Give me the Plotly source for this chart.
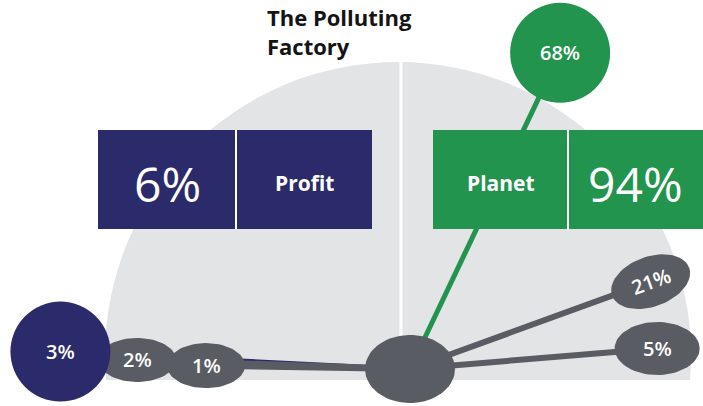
import numpy as np
import plotly.graph_objects as go

# ---------------- data ----------------
title = "The Polluting<br>Factory"
groups = ["Profit", "Planet"]
group_totals = [6, 94]
profit_parts = [3, 2, 1]
planet_parts = [68, 21, 5]

# ---------------- styling ----------------
NAVY = "rgb(43,42,107)"
GREEN = "rgb(34,148,78)"
GREY = "rgb(90,92,99)"
BG = "rgb(227,228,230)"
FONT = "Open Sans"

W, H = 703, 406
HUB = (410, 369)            # hub centre (axes are set up in pixel units)
DEG_PER_PCT = 0.95          # angle of a spoke = share * this
profit_len = [350, 273, 204]
planet_len = [350, 256, 248]


def spoke_end(value, length, side):
    ang = np.radians(value * DEG_PER_PCT)
    dx = length * np.cos(ang)
    if side == "left":
        dx = -dx
    return HUB[0] + dx, HUB[1] - length * np.sin(ang)


def ellipse(cx, cy, w, h, tilt=0.0, n=72):
    t = np.linspace(0, 2 * np.pi, n)
    ex, ey = w / 2 * np.cos(t), h / 2 * np.sin(t)
    a = np.radians(tilt)
    return cx + ex * np.cos(a) - ey * np.sin(a), cy - (ex * np.sin(a) + ey * np.cos(a))


fig = go.Figure()

ends_left = [spoke_end(v, l, "left") for v, l in zip(profit_parts, profit_len)]
ends_right = [spoke_end(v, l, "right") for v, l in zip(planet_parts, planet_len)]

# spokes
spoke_styles = [(ends_left[0], NAVY, 4), (ends_left[1], GREY, 6), (ends_left[2], GREY, 6),
                (ends_right[0], GREEN, 5), (ends_right[1], GREY, 6), (ends_right[2], GREY, 6)]
for (ex, ey), col, lw in spoke_styles:
    fig.add_trace(go.Scatter(x=[HUB[0], ex], y=[HUB[1], ey], mode="lines",
                             line=dict(color=col, width=lw), hoverinfo="skip"))

# grey ellipse bubbles
ellipses = [(ends_left[1], 78, 44, 0), (ends_left[2], 78, 45, 0),
            (ends_right[1], 82, 50, 20), (ends_right[2], 85, 53, 0),
            (HUB, 90, 68, 0)]
for (cx, cy), w, h, tilt in ellipses:
    ex, ey = ellipse(cx, cy, w, h, tilt)
    fig.add_trace(go.Scatter(x=ex, y=ey, mode="lines", fill="toself", fillcolor=GREY,
                             line=dict(color=GREY, width=0), hoverinfo="skip"))

# round bubbles for the biggest share on each side
for (cx, cy), col in [(ends_left[0], NAVY), (ends_right[0], GREEN)]:
    fig.add_trace(go.Scatter(x=[cx], y=[cy], mode="markers",
                             marker=dict(size=100, color=col, line=dict(width=0)),
                             hoverinfo="skip"))

annotations = []
labels = [(ends_left[i], f"{v}%", 0) for i, v in enumerate(profit_parts)]
labels += [(ends_right[i], f"{v}%", -20 if i == 1 else 0) for i, v in enumerate(planet_parts)]
for (cx, cy), txt, ang in labels:
    annotations.append(dict(x=cx, y=cy, text=txt, showarrow=False, textangle=ang,
                            font=dict(family=FONT, size=20, weight=600, color="white")))

# summary boxes
boxes = [
    dict(x0=98, x1=372, split=236, color=NAVY, big=f"{group_totals[0]}%", name=groups[0], big_left=True),
    dict(x0=433, x1=706, split=568, color=GREEN, big=f"{group_totals[1]}%", name=groups[1], big_left=False),
]
shapes = [
    dict(type="circle", xref="x", yref="y", x0=105, x1=691, y0=62, y1=648,
         fillcolor=BG, line=dict(width=0), layer="below"),
    dict(type="rect", xref="x", yref="y", x0=0, x1=W, y0=380, y1=H + 300,
         fillcolor="white", line=dict(width=0), layer="below"),
    dict(type="line", xref="x", yref="y", x0=401, x1=401, y0=55, y1=380,
         line=dict(color="white", width=3), layer="below"),
]
for b in boxes:
    shapes.append(dict(type="rect", xref="x", yref="y", x0=b["x0"], x1=b["x1"], y0=130, y1=229,
                       fillcolor=b["color"], line=dict(width=0), layer="above"))
    shapes.append(dict(type="line", xref="x", yref="y", x0=b["split"], x1=b["split"], y0=130, y1=229,
                       line=dict(color="white", width=2), layer="above"))
    left_mid = (b["x0"] + b["split"]) / 2
    right_mid = (b["split"] + b["x1"]) / 2
    if b["big_left"]:
        big_x, name_x = left_mid, right_mid
    else:
        big_x, name_x = right_mid - 2, left_mid
    annotations.append(dict(x=big_x, y=183, text=b["big"], showarrow=False,
                            font=dict(family=FONT, size=48, color="white")))
    annotations.append(dict(x=name_x, y=183, text=f"<b>{b['name']}</b>", showarrow=False,
                            font=dict(family=FONT, size=21, color="white")))

annotations.append(dict(x=265, y=0, xanchor="left", yanchor="top", align="left",
                        text=f"<b>{title}</b>", showarrow=False,
                        font=dict(family=FONT, size=22, color="rgb(20,20,20)")))

fig.update_layout(
    width=W, height=H, margin=dict(l=0, r=0, t=0, b=0),
    paper_bgcolor="white", plot_bgcolor="white", showlegend=False,
    xaxis=dict(range=[0, W], visible=False, fixedrange=True),
    yaxis=dict(range=[H, 0], visible=False, fixedrange=True),
    shapes=shapes, annotations=annotations,
)

# the page body has a default 8px margin; drop it so the figure sits at the origin
fig.write_html("out.html", config={"displayModeBar": False},
               post_script="document.body.style.margin='0';")
